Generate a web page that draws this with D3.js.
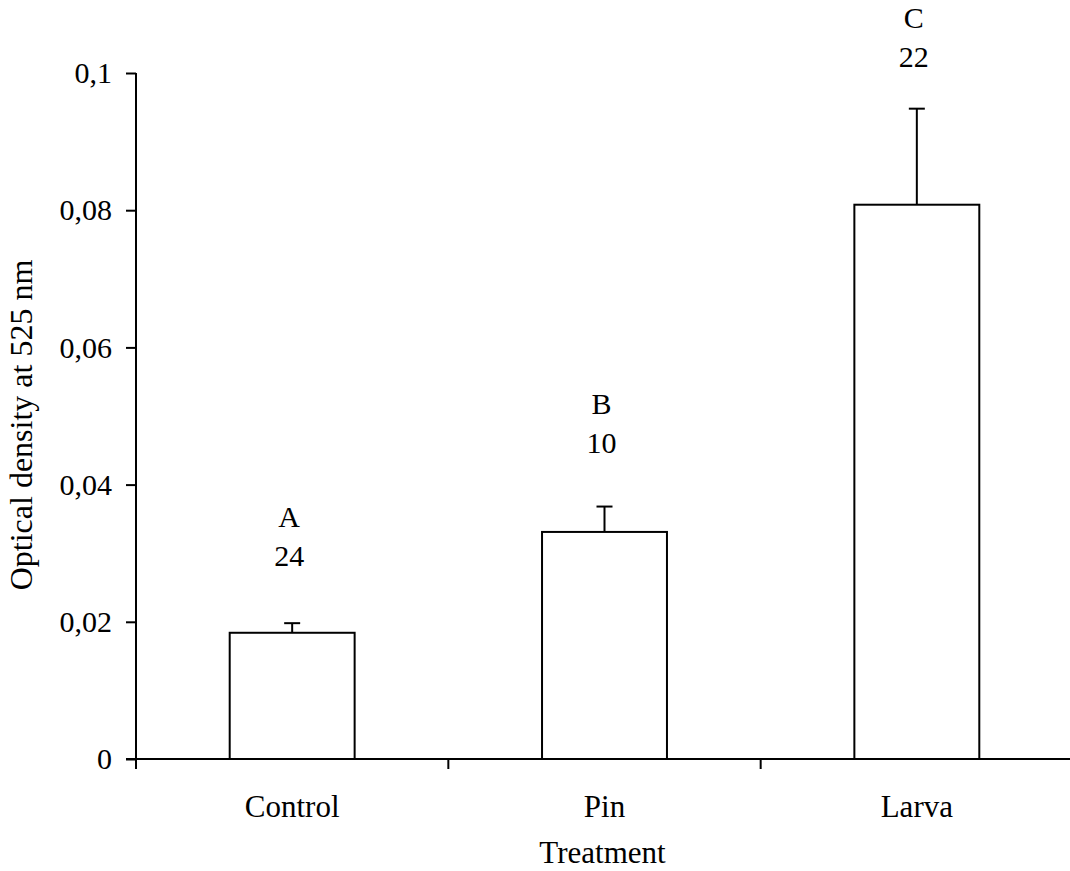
<!DOCTYPE html>
<html>
<head>
<meta charset="utf-8">
<script src="https://cdn.jsdelivr.net/npm/d3@7"></script>
<style>
  body { margin: 0; background: #fff; }
  text { font-family: "Liberation Serif", "Times New Roman", serif; fill: #000; }
</style>
</head>
<body>
<div id="chart"></div>
<script>
// data
var treatments = ["Control", "Pin", "Larva"];
var means = [0.0184, 0.0331, 0.0808];
var errors = [0.0014, 0.0037, 0.0140];
var letters = ["A", "B", "C"];
var counts = ["24", "10", "22"];
var yTicks = [0, 0.02, 0.04, 0.06, 0.08, 0.1];
var yTickLabels = ["0", "0,02", "0,04", "0,06", "0,08", "0,1"];

var W = 1070, H = 871;
var plot = {left: 136, right: 1073, top: 73, bottom: 759};

var svg = d3.select("#chart").append("svg")
    .attr("width", W)
    .attr("height", H);

var x = d3.scaleBand()
    .domain(treatments)
    .range([plot.left, plot.right])
    .paddingInner(0.6)
    .paddingOuter(0.3);

var y = d3.scaleLinear()
    .domain([0, 0.1])
    .range([plot.bottom, plot.top]);

var step = x.step();

// bars
svg.append("g")
  .selectAll("rect")
  .data(treatments)
  .enter()
  .append("rect")
    .attr("x", function(d) { return x(d); })
    .attr("y", function(d, i) { return y(means[i]); })
    .attr("width", x.bandwidth())
    .attr("height", function(d, i) { return y(0) - y(means[i]); })
    .attr("fill", "#fff")
    .attr("stroke", "#000")
    .attr("stroke-width", 2);

// error bars (upper only)
var eb = svg.append("g").attr("stroke", "#000").attr("stroke-width", 2);
treatments.forEach(function(d, i) {
  var cx = x(d) + x.bandwidth() / 2;
  eb.append("line")
    .attr("x1", cx).attr("x2", cx)
    .attr("y1", y(means[i])).attr("y2", y(means[i] + errors[i]));
  eb.append("line")
    .attr("x1", cx - 8).attr("x2", cx + 8)
    .attr("y1", y(means[i] + errors[i])).attr("y2", y(means[i] + errors[i]));
});

// letters and n above each bar (gap shrinks a bit for taller bars)
var ann = svg.append("g").attr("text-anchor", "middle").style("font-size", "30px");
treatments.forEach(function(d, i) {
  var cx = x(d) + x.bandwidth() / 2 - 3;
  var ye = y(means[i] + errors[i]);
  var yt = ye - (38 + 0.03 * ye);
  ann.append("text").attr("x", cx).attr("y", yt).text(counts[i]);
  ann.append("text").attr("x", cx).attr("y", yt - 39).text(letters[i]);
});

// y axis
var yAxis = svg.append("g")
    .attr("transform", "translate(" + plot.left + ",0)")
    .call(d3.axisLeft(y).tickValues(yTicks).tickSize(10).tickSizeOuter(0)
      .tickFormat(function(d, i) { return yTickLabels[i]; }));
yAxis.select(".domain").remove();
yAxis.append("line")
    .attr("x1", 0).attr("x2", 0)
    .attr("y1", plot.top).attr("y2", plot.bottom + 10)
    .attr("stroke", "#000").attr("stroke-width", 2);
yAxis.selectAll(".tick line").attr("stroke-width", 2);
yAxis.selectAll(".tick text")
    .attr("x", -24)
    .attr("dy", "0.32em")
    .style("font-size", "30px")
    .style("font-family", "'Liberation Serif', serif");

// x axis
var xAxis = svg.append("g");
xAxis.append("line")
    .attr("x1", plot.left - 10).attr("x2", plot.right)
    .attr("y1", plot.bottom).attr("y2", plot.bottom)
    .attr("stroke", "#000").attr("stroke-width", 2);
xAxis.selectAll("line.tick")
  .data(treatments.slice(1).concat([null]))
  .enter()
  .append("line")
    .attr("class", "tick")
    .attr("x1", function(d) { return d ? x(d) - step * 0.3 : plot.right; })
    .attr("x2", function(d) { return d ? x(d) - step * 0.3 : plot.right; })
    .attr("y1", plot.bottom).attr("y2", plot.bottom + 10)
    .attr("stroke", "#000").attr("stroke-width", 2);
xAxis.selectAll("text")
  .data(treatments)
  .enter()
  .append("text")
    .attr("x", function(d) { return x(d) + x.bandwidth() / 2; })
    .attr("y", plot.bottom + 58)
    .attr("text-anchor", "middle")
    .style("font-size", "31px")
    .text(function(d) { return d; });

// axis titles
svg.append("text")
    .attr("x", (plot.left + plot.right) / 2 - 2)
    .attr("y", 863)
    .attr("text-anchor", "middle")
    .style("font-size", "31px")
    .text("Treatment");

svg.append("text")
    .attr("transform", "translate(32,425) rotate(-90)")
    .attr("text-anchor", "middle")
    .style("font-size", "32px")
    .text("Optical density at 525 nm");
</script>
</body>
</html>
